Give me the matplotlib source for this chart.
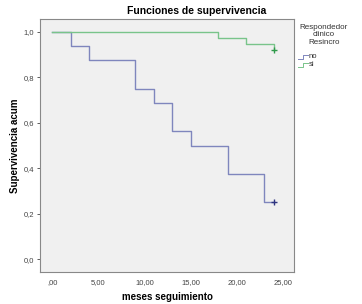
import matplotlib.pyplot as plt
from matplotlib.ticker import FuncFormatter

plt.rcParams['font.family'] = ['Liberation Sans', 'DejaVu Sans']

# Kaplan-Meier step data
no_times = [0, 2, 4, 9, 11, 13, 15, 19, 23, 24]
no_surv = [1.0, 0.9375, 0.875, 0.75, 0.6875, 0.5625, 0.5, 0.375, 0.25, 0.25]
si_times = [0, 18, 21, 24]
si_surv = [1.0, 0.974, 0.947, 0.921]
censor_no = (24, 0.25)
censor_si = (24, 0.921)

x_ticks = [0, 5, 10, 15, 20, 25]
y_ticks = [0.0, 0.2, 0.4, 0.6, 0.8, 1.0]

BLUE = '#7f86bd'
BLUE_DARK = '#2f3580'
GREEN = '#79c48a'
GREEN_DARK = '#2f9a4a'


def fmt_x(v, pos):
    s = f'{v:.2f}'.replace('.', ',')
    return s[1:] if s.startswith('0') else s


def fmt_y(v, pos):
    return f'{v:.1f}'.replace('.', ',')


fig = plt.figure(figsize=(3.62, 3.04), dpi=100)
ax = fig.add_axes([40 / 362, 1 - 272 / 304, 254 / 362, 253 / 304])
ax.set_facecolor('#f0f0f0')

ax.step(no_times, no_surv, where='post', color=BLUE, lw=1.0)
ax.step(si_times, si_surv, where='post', color=GREEN, lw=1.0)
ax.plot(*censor_no, marker='+', color=BLUE_DARK, ms=4, mew=1.0)
ax.plot(*censor_si, marker='+', color=GREEN_DARK, ms=4, mew=1.0)

ax.set_xlim(-1.35, 26.2)
ax.set_ylim(-0.056, 1.056)
ax.set_xticks(x_ticks)
ax.set_yticks(y_ticks)
ax.xaxis.set_major_formatter(FuncFormatter(fmt_x))
ax.yaxis.set_major_formatter(FuncFormatter(fmt_y))
ax.tick_params(axis='both', labelsize=5.5, colors='#444444', length=2.5, width=0.6, pad=1.5)
ax.tick_params(axis='x', length=0, pad=5)
for side in ax.spines.values():
    side.set_color('#888888')
    side.set_linewidth(0.8)

fig.text(197 / 362, 1 - 11 / 304, 'Funciones de supervivencia', ha='center', va='center',
         fontsize=7.5, fontweight='bold')
ax.set_xlabel('meses seguimiento', fontsize=7, fontweight='bold', labelpad=4)
ax.set_ylabel('Supervivencia acum', fontsize=7, fontweight='bold', labelpad=3)

# legend drawn as in SPSS: title lines and small step glyphs
fig.text(324 / 362, 1 - 35 / 304, 'Respondedor\nclinico\nResincro', ha='center',
         va='center', fontsize=5.8, color='#333333', linespacing=1.15)
for label, col, yy in [('no', BLUE, 57), ('si', GREEN, 65)]:
    y0 = 1 - (yy + 2) / 304
    y1 = 1 - (yy - 2) / 304
    xs = [298 / 362, 303 / 362, 303 / 362, 308 / 362]
    fig.add_artist(plt.Line2D(xs, [y0, y0, y1, y1], color=col, lw=0.7))
    fig.text(309 / 362, 1 - yy / 304, label, ha='left', va='center',
             fontsize=5.5, color='#333333')

fig.savefig('out.png', dpi=100)
